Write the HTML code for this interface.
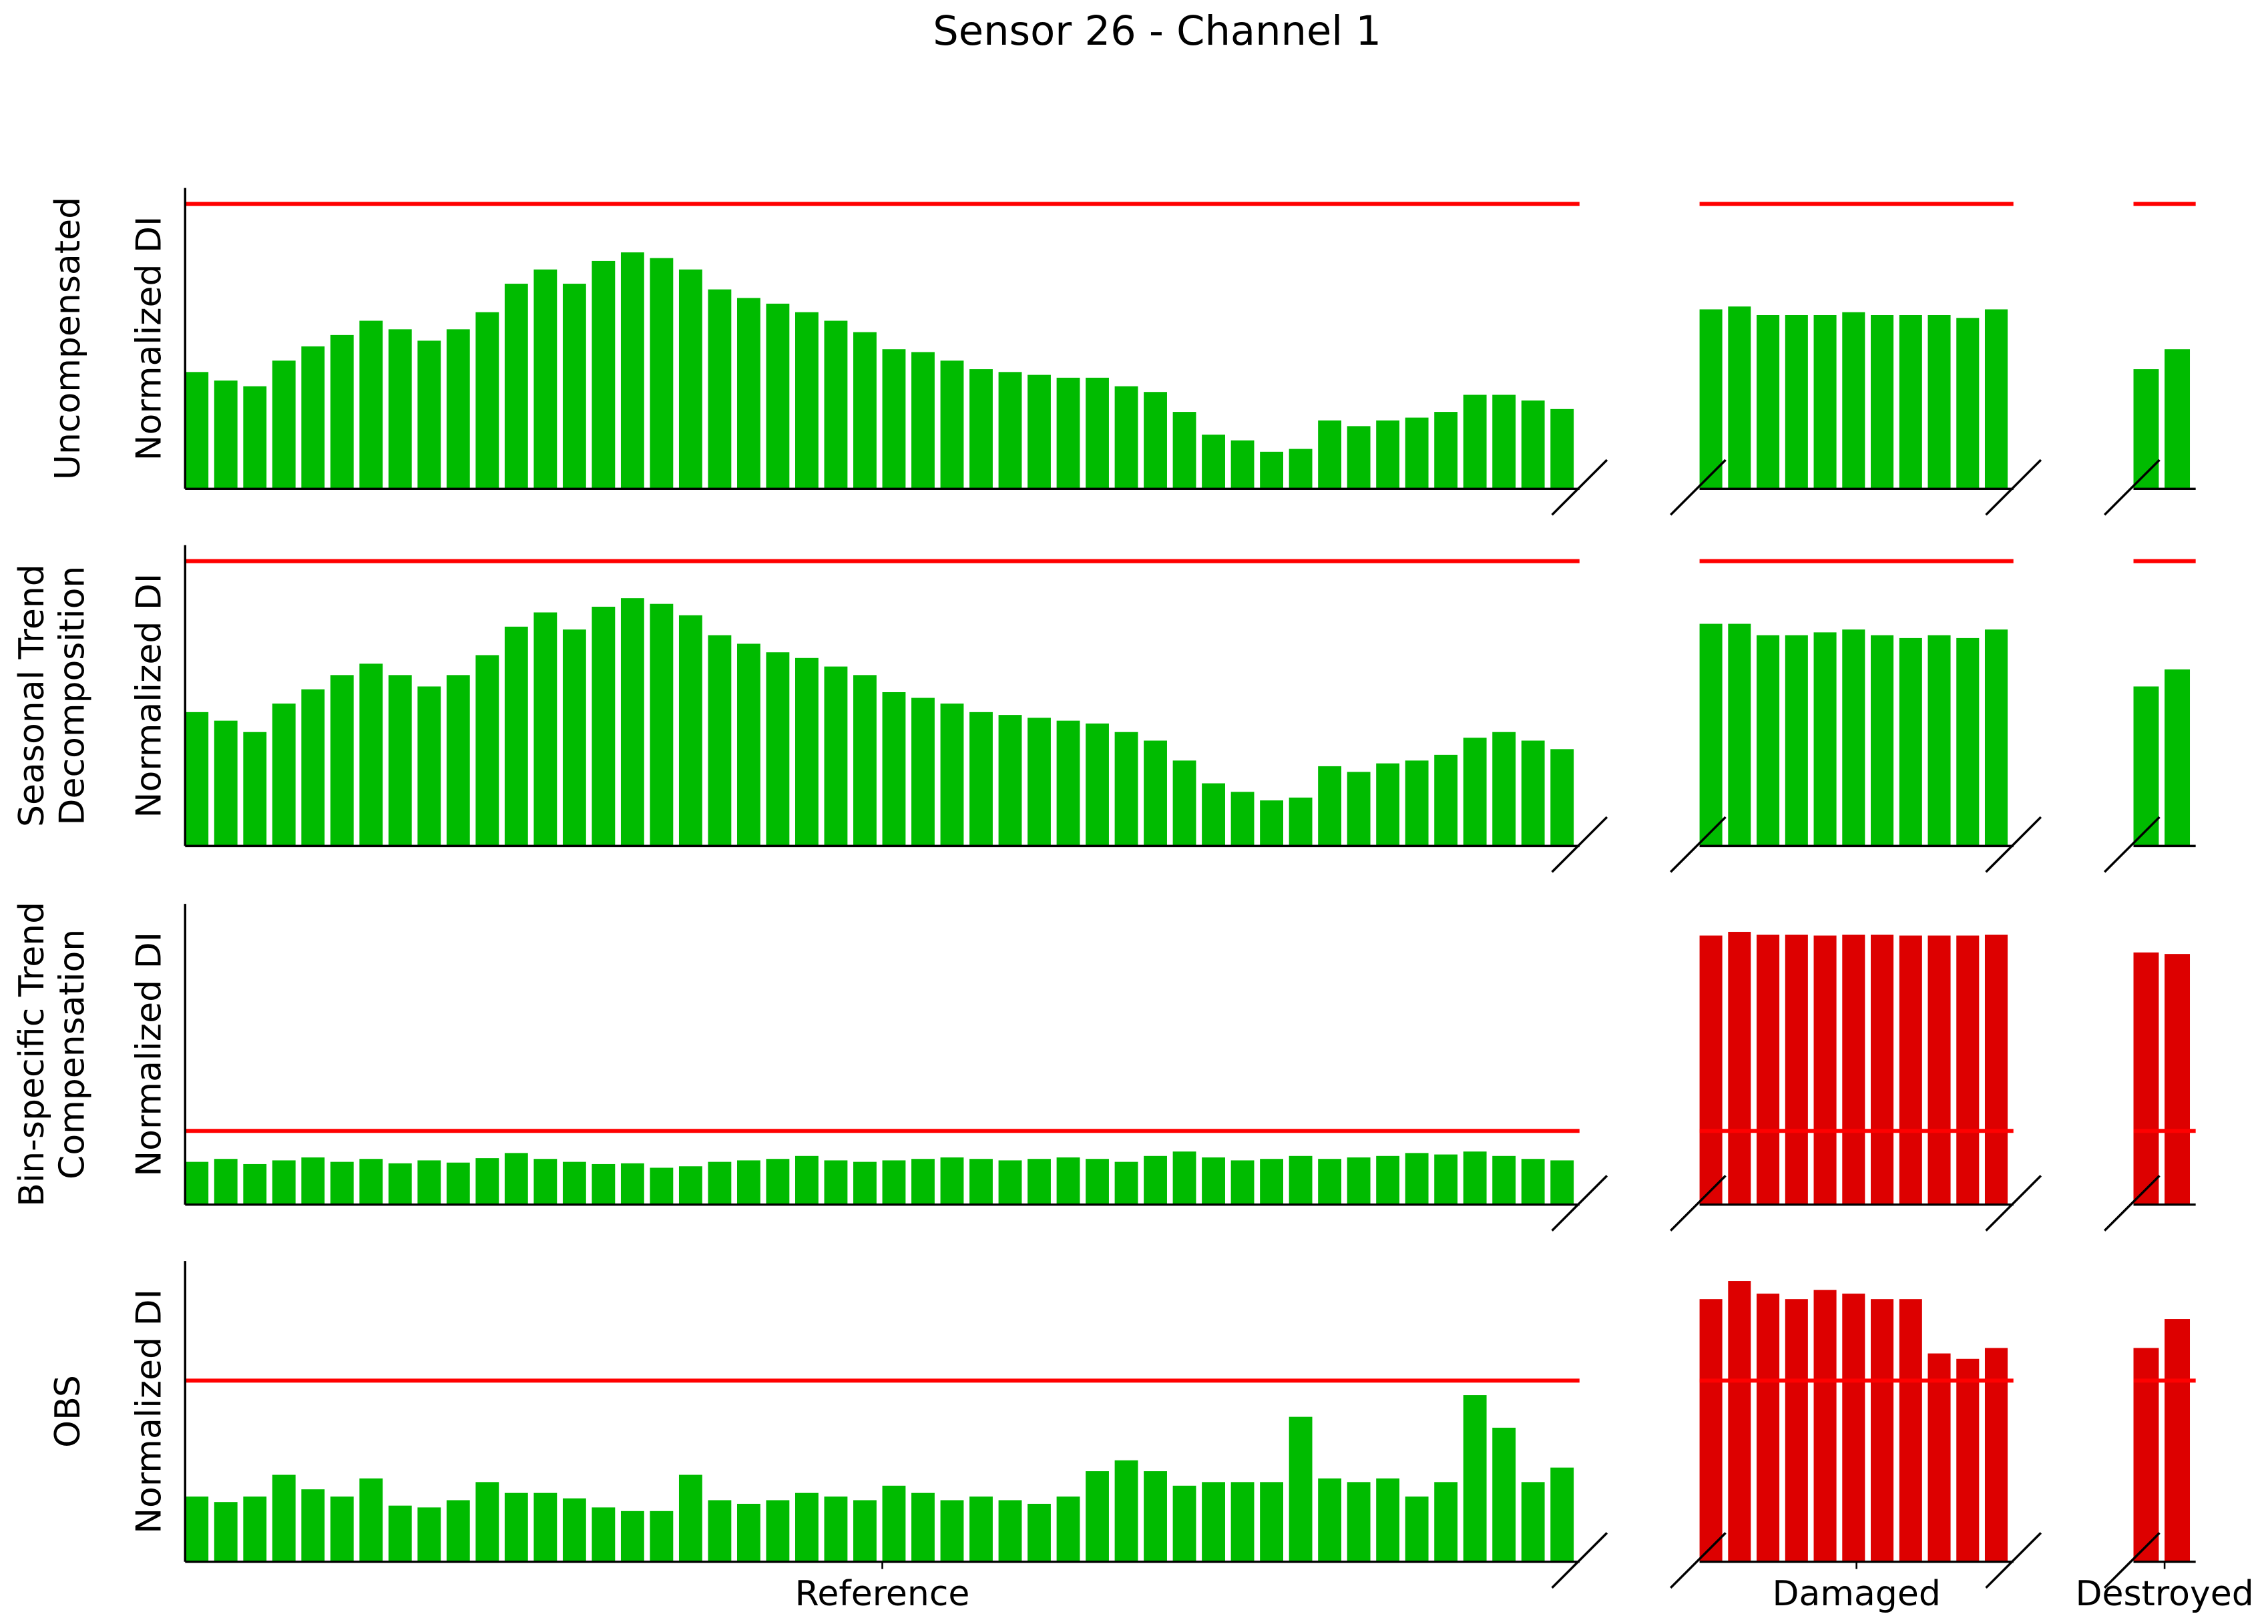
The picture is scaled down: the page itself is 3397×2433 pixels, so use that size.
<!DOCTYPE html>
<html><head><meta charset="utf-8"><style>
html,body{margin:0;padding:0;background:#fff}
svg{display:block}
text{font-family:"DejaVu Sans","Liberation Sans",sans-serif;fill:#000}
</style></head><body>
<svg id="chart" width="3397" height="2433" viewBox="0 0 1568 1123" xmlns="http://www.w3.org/2000/svg">
<text x="800" y="31" font-size="28" text-anchor="middle">Sensor 26 - Channel 1</text>
<g id="plots"></g>
</svg>
<script>
// Reference segment values (units of threshold), 48 groups each
const refUncomp = [0.41,0.38,0.36,0.45,0.50,0.54,0.59,0.56,0.52,0.56,0.62,0.72,0.77,0.72,0.80,0.83,0.81,0.77,0.70,0.67,0.65,0.62,0.59,0.55,0.49,0.48,0.45,0.42,0.41,0.40,0.39,0.39,0.36,0.34,0.27,0.19,0.17,0.13,0.14,0.24,0.22,0.24,0.25,0.27,0.33,0.33,0.31,0.28];
const refSTD = [0.47,0.44,0.40,0.50,0.55,0.60,0.64,0.60,0.56,0.60,0.67,0.77,0.82,0.76,0.84,0.87,0.85,0.81,0.74,0.71,0.68,0.66,0.63,0.60,0.54,0.52,0.50,0.47,0.46,0.45,0.44,0.43,0.40,0.37,0.30,0.22,0.19,0.16,0.17,0.28,0.26,0.29,0.30,0.32,0.38,0.40,0.37,0.34];
const refBin = [0.58,0.62,0.55,0.60,0.64,0.58,0.62,0.56,0.60,0.57,0.63,0.70,0.62,0.58,0.55,0.56,0.50,0.52,0.58,0.60,0.62,0.66,0.60,0.58,0.60,0.62,0.64,0.62,0.60,0.62,0.64,0.62,0.58,0.66,0.72,0.64,0.60,0.62,0.66,0.62,0.64,0.66,0.70,0.68,0.72,0.66,0.62,0.60];
const refOBS = [0.36,0.33,0.36,0.48,0.40,0.36,0.46,0.31,0.30,0.34,0.44,0.38,0.38,0.35,0.30,0.28,0.28,0.48,0.34,0.32,0.34,0.38,0.36,0.34,0.42,0.38,0.34,0.36,0.34,0.32,0.36,0.50,0.56,0.50,0.42,0.44,0.44,0.44,0.80,0.46,0.44,0.46,0.36,0.44,0.92,0.74,0.44,0.52];
// Damaged segment values, 11 groups
const dmgUncomp = [0.63,0.64,0.61,0.61,0.61,0.62,0.61,0.61,0.61,0.60,0.63];
const dmgSTD = [0.78,0.78,0.74,0.74,0.75,0.76,0.74,0.73,0.74,0.73,0.76];
const dmgBin = [3.65,3.70,3.66,3.66,3.65,3.66,3.66,3.65,3.65,3.65,3.66];
const dmgOBS = [1.45,1.55,1.48,1.45,1.50,1.48,1.45,1.45,1.15,1.12,1.18];
// Destroyed segment values, 2 groups
const desUncomp = [0.42,0.49];
const desSTD = [0.56,0.62];
const desBin = [3.42,3.40];
const desOBS = [1.18,1.34];
const rowLabels = [["Uncompensated"],["Seasonal Trend","Decomposition"],["Bin-specific Trend","Compensation"],["OBS"]];
const rowYmax = [1.056,1.056,4.08,1.66];
const xLabels = ["Reference","Damaged","Destroyed"];

const NS="http://www.w3.org/2000/svg";
const plots=document.getElementById('plots');
const rows=[[refUncomp,dmgUncomp,desUncomp],[refSTD,dmgSTD,desSTD],[refBin,dmgBin,desBin],[refOBS,dmgOBS,desOBS]];
const cols=[[128,1092],[1175,1392],[1475,1518]];
const rowTop=[130,377,625,872], rowH=208;
function mk(tag,attrs,parent){const e=document.createElementNS(NS,tag);for(const k in attrs)e.setAttribute(k,attrs[k]);(parent||plots).appendChild(e);return e;}
rows.forEach((series,r)=>{
  const bottom=rowTop[r]+rowH, ymax=rowYmax[r];
  const y=v=>bottom-v/ymax*rowH;
  series.forEach((vals,c)=>{
    const [x0,x1]=cols[c];
    const gw=(x1-x0)/vals.length;
    vals.forEach((v,i)=>{
      const b=mk('rect',{x:x0+i*gw,y:y(v),width:Math.max(gw-4,1),height:bottom-y(v),fill:v>1?'#dd0000':'#00bb00'});
      
      
    });
    const th=mk('line',{x1:x0,x2:x1,y1:y(1),y2:y(1),stroke:'#ff0000','stroke-width':2.8});
    
    
    const ax=mk('line',{x1:x0,x2:x1,y1:bottom,y2:bottom,stroke:'#000','stroke-width':1.6});
    
    
    if(c===0){
      const sp=mk('line',{x1:x0,x2:x0,y1:rowTop[r],y2:bottom,stroke:'#000','stroke-width':1.6});
      
      
    }
    if(c>0){
      const bl=mk('line',{x1:x0-20,y1:bottom+18,x2:x0+18,y2:bottom-20,stroke:'#000','stroke-width':1.6});
      
      
    }
    const br=mk('line',{x1:x1-19,y1:bottom+18,x2:x1+19,y2:bottom-20,stroke:'#000','stroke-width':1.6});
    if(c===2) br.setAttribute('visibility','hidden');
    
    
    if(r===3){
      const cx=(x0+x1)/2;
      const tk=mk('line',{x1:cx,x2:cx,y1:bottom,y2:bottom+5,stroke:'#000','stroke-width':1.2});
      
      
      const lt=mk('text',{x:cx,y:bottom+30,'font-size':24,'text-anchor':'middle'});
      lt.textContent=xLabels[c];
      
      
    }
  });
  const cy=rowTop[r]+rowH/2;
  const yl=mk('text',{x:0,y:0,'font-size':24,'text-anchor':'middle',transform:`translate(111,${cy}) rotate(-90)`});
  yl.textContent='Normalized DI';
  
  
  const lines=rowLabels[r];
  const base=lines.length===1?55:44;
  lines.forEach((t,k)=>{
    const off=(k-(lines.length-1)/2)*28;
    const rl=mk('text',{x:0,y:0,'font-size':24,'text-anchor':'middle',transform:`translate(${base+off},${cy}) rotate(-90)`});
    rl.textContent=t;
    
    
  });
});
</script>
</body></html>
